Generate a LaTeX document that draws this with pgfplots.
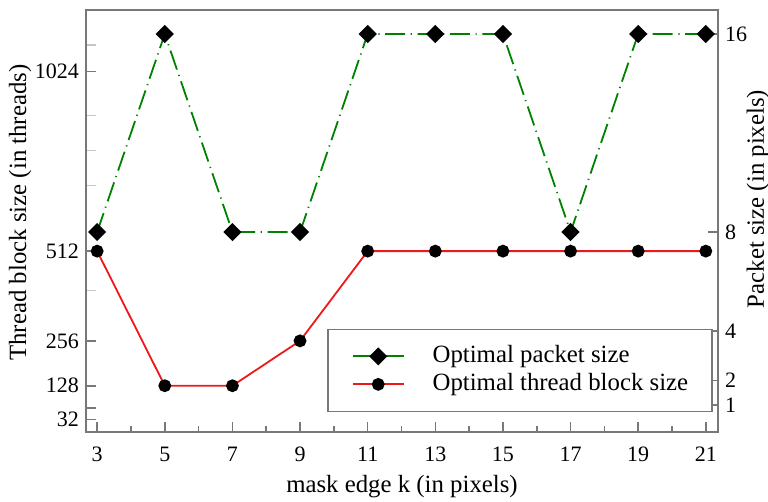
\documentclass[border=0pt]{standalone}
\usepackage{fontspec}
\setmainfont{Liberation Serif}
\usepackage{pgfplots}
\pgfplotsset{compat=1.18}

\definecolor{pktgreen}{RGB}{0,130,0}
\definecolor{thrred}{RGB}{235,25,25}
\definecolor{framegray}{RGB}{120,120,120}

\pgfplotsset{
  twin/.style={
    scale only axis, width=316pt, height=211pt,
    at={(0,0)}, anchor=south west,
    xmin=2.67, xmax=21.36,
    clip=false,
    axis line style={framegray, line width=0.8pt},
    every tick/.style={framegray, line width=0.8pt},
    major tick length=5pt, minor tick length=3pt,
    tick align=inside,
    tick label style={font=\fontsize{11}{13}\selectfont},
    label style={font=\fontsize{12.4}{14}\selectfont},
    /pgf/number format/assume math mode=true,
    legend image code/.code={%
      \draw[mark repeat=2,mark phase=2] plot coordinates {(0pt,0pt) (12.75pt,0pt) (25.5pt,0pt)};},
  }
}

\begin{document}
\begin{tikzpicture}
\useasboundingbox (-43pt,-35pt) rectangle (341pt,216pt);

% left axis: thread block size
\begin{axis}[twin,
  ymin=-4, ymax=1200,
  xtick={3,5,...,21}, minor x tick num=1, xtick pos=bottom,
  xticklabel style={anchor=base, yshift=-14.7pt},
  ytick={32,64,128,256,512,1024}, yticklabels={32,,128,256,512,1024},
  ytick pos=left,
  extra y ticks={400,700,800,900,1100}, extra y tick labels={},
  extra y tick style={ytick pos=left, tick style={gray!45, line width=0.6pt}},
  xlabel={mask edge k (in pixels)},
  xlabel style={at={(axis description cs:0.5,-0.130)}, anchor=center},
  ylabel={Thread block size (in threads)},
  ylabel style={at={(axis description cs:-0.104,0.52)}, anchor=center},
]
\addplot[thrred, line width=0.9pt, mark=*, mark size=2.75pt,
  mark options={fill=black, draw=black}] coordinates {
  (3,512) (5,128) (7,128) (9,256) (11,512) (13,512)
  (15,512) (17,512) (19,512) (21,512)
};
\end{axis}

% right axis: packet size
\begin{axis}[twin,
  ymin=-0.08, ymax=16.97,
  hide x axis,
  ytick={1,2,4,8,16}, ytick pos=right,
  ylabel={Packet size (in pixels)},
  ylabel style={at={(axis description cs:1.063,0.552)}, anchor=center},
  legend style={
    at={(0.992,0.047)}, anchor=south east,
    draw=framegray, line width=0.8pt, fill=white,
    inner xsep=12pt, inner ysep=8pt,
    row sep=3pt, column sep=14pt,
    nodes={inner sep=0pt, text height=8.5pt, text depth=2.5pt},
    font=\fontsize{12.4}{14}\selectfont,
  },
  legend cell align=left,
]
\addplot[pktgreen, line width=0.9pt,
  dash pattern=on 10pt off 2.8pt on 0.6pt off 2.8pt,
  mark=square*, mark size=2.76pt,
  mark options={solid, rotate=45, fill=black, draw=black}] coordinates {
  (3,8) (5,16) (7,8) (9,8) (11,16) (13,16)
  (15,16) (17,8) (19,16) (21,16)
};
\addlegendentry{Optimal packet size}
\addlegendimage{thrred, line width=0.9pt, mark=*, mark size=2.75pt,
  mark options={fill=black, draw=black}}
\addlegendentry{Optimal thread block size}
\end{axis}
\end{tikzpicture}
\end{document}
